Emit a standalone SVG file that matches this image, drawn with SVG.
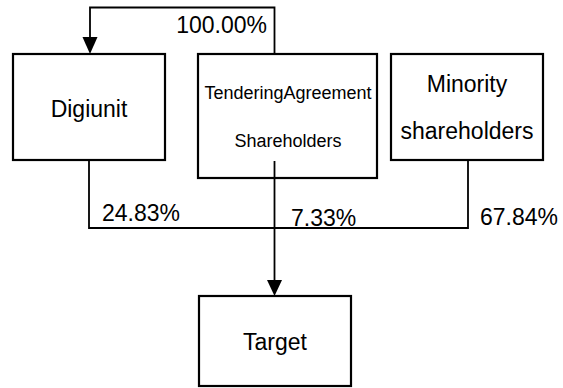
<svg xmlns="http://www.w3.org/2000/svg" width="563" height="388" viewBox="0 0 563 388">
<style>
.box{fill:#fff;stroke:#000;stroke-width:2.2}
.t{font-family:"Liberation Sans",Arial,sans-serif;font-size:23px;fill:#000}
.s{font-family:"Liberation Sans",Arial,sans-serif;font-size:18px;fill:#000}
.ln{fill:none;stroke:#000;stroke-width:1.8}
.ah{fill:#000;stroke:none}
</style>
<rect width="563" height="388" fill="#fff"/>
<g id="digiunit">
<rect class="box" x="13" y="54" width="152" height="106"/>
<text class="t" x="89" y="117" text-anchor="middle">Digiunit</text>
</g>
<g id="tendering">
<rect class="box" x="198" y="54" width="179" height="124"/>
<text class="s" x="288" y="99" text-anchor="middle">TenderingAgreement</text>
<text class="s" x="288" y="147" text-anchor="middle">Shareholders</text>
</g>
<g id="minority">
<rect class="box" x="391" y="54" width="152" height="106"/>
<text class="t" x="467" y="92" text-anchor="middle">Minority</text>
<text class="t" x="467" y="139" text-anchor="middle">shareholders</text>
</g>
<g id="target">
<rect class="box" x="199" y="296" width="152" height="90"/>
<text class="t" x="275" y="350" text-anchor="middle">Target</text>
</g>
<g id="connectors">
<path class="ln" d="M274.5,54 V7.5 H90 V38"/>
<polygon class="ah" points="82.5,37 97.5,37 90,54"/>
<path class="ln" d="M89,160 V228 H468 V160"/>
<path class="ln" d="M274.5,161 V281"/>
<polygon class="ah" points="267,280 282,280 274.5,296"/>
<text class="t" x="267" y="33" text-anchor="end">100.00%</text>
<text class="t" x="102" y="221">24.83%</text>
<text class="t" x="291" y="226">7.33%</text>
<text class="t" x="480" y="225">67.84%</text>
</g>
</svg>
